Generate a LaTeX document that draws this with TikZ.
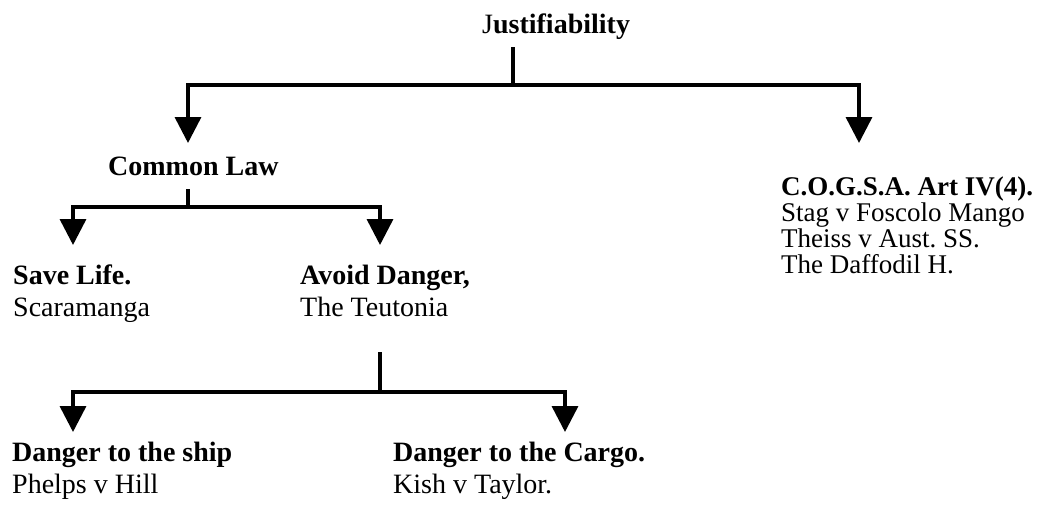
\documentclass[tikz,border=0pt]{standalone}
\usepackage{fontspec}
\setmainfont{Liberation Serif}
\usetikzlibrary{arrows.meta,positioning}
\frenchspacing

\begin{document}
\begin{tikzpicture}[x=1pt, y=-1pt,
    every node/.style={align=left, inner sep=0pt, anchor=north west, font=\fontsize{28}{32}\selectfont},
    tight/.style={font=\fontsize{27}{26}\selectfont},
    link/.style={line width=3.5pt},
    arrow/.style={-{Triangle[length=26pt, width=26pt]}, line width=3.5pt}
]
    \useasboundingbox (0,0) rectangle (1041,504);

    \node (just) at (482,14) {J\textbf{ustifiability}};
    \node (common) at (108,157) {\textbf{Common Law}};
    \node[tight] (cogsa) at (781,177) {\textbf{C.O.G.S.A. Art IV(4).}\\Stag v Foscolo Mango\\Theiss v Aust. SS.\\The Daffodil H.};
    \node (save) at (13,265) {\textbf{Save Life.}\\Scaramanga};
    \node (avoid) at (300,265) {\textbf{Avoid Danger,}\\The Teutonia};
    \node (ship) at (12,442) {\textbf{Danger to the ship}\\Phelps v Hill};
    \node (cargo) at (393,442) {\textbf{Danger to the Cargo.}\\Kish v Taylor.};

    % junctions and arrow ends
    \coordinate (s1) at (513,47);
    \coordinate (j1) at (513,85);
    \coordinate (t1a) at (188,143);
    \coordinate (t1b) at (859,143);
    \coordinate (s2) at (188,189);
    \coordinate (j2) at (188,207);
    \coordinate (t2a) at (73,245);
    \coordinate (t2b) at (380,245);
    \coordinate (s3) at (380,352);
    \coordinate (j3) at (380,392);
    \coordinate (t3a) at (73,432);
    \coordinate (t3b) at (565,432);

    \draw[link] (s1) -- (j1);
    \draw[arrow] (j1) -| (t1a);
    \draw[arrow] (j1) -| (t1b);
    \draw[link] (s2) -- (j2);
    \draw[arrow] (j2) -| (t2a);
    \draw[arrow] (j2) -| (t2b);
    \draw[link] (s3) -- (j3);
    \draw[arrow] (j3) -| (t3a);
    \draw[arrow] (j3) -| (t3b);
\end{tikzpicture}
\end{document}
